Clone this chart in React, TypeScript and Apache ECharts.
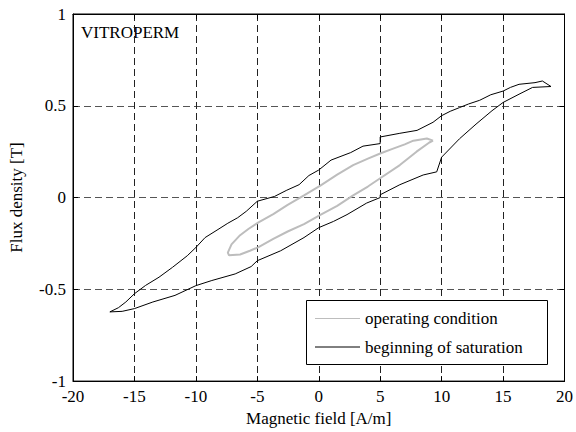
import React, { useEffect, useRef } from "react";
import * as echarts from "echarts";

const FONT = "Liberation Serif";
const FS = 17;

const xTicks = { min: -20, max: 20, interval: 5 };
const yTicks = { min: -1, max: 1, interval: 0.5 };

const seriesNames = ["operating condition", "beginning of saturation"];
const seriesColors = ["#bdbdbd", "#000000"];

// black loop: upper (descending H) then lower (ascending H)
const saturationUpper: [number, number][] = [
  [18.9, 0.605], [18.2, 0.635], [17.6, 0.626], [16.3, 0.617], [15.6, 0.6],
  [15.0, 0.58], [14.0, 0.56], [13.1, 0.53], [12.2, 0.51], [11.45, 0.49],
  [10.7, 0.47], [10.0, 0.446], [9.3, 0.41], [8.0, 0.366], [6.6, 0.35],
  [5.0, 0.33], [5.0, 0.294], [3.6, 0.28], [2.6, 0.245], [1.0, 0.204],
  [0.0, 0.15], [-0.8, 0.12], [-1.6, 0.07], [-2.6, 0.04], [-3.6, 0.006],
  [-5.0, -0.02], [-5.9, -0.075], [-6.6, -0.11], [-7.4, -0.14], [-8.2, -0.174],
  [-9.25, -0.218], [-10.0, -0.272], [-10.7, -0.317], [-11.9, -0.38],
  [-13.0, -0.434], [-14.1, -0.479], [-15.0, -0.524], [-15.7, -0.569],
  [-16.3, -0.6], [-17.0, -0.623],
];
const saturationLower: [number, number][] = [
  [-17.0, -0.625], [-16.0, -0.62], [-15.0, -0.605], [-13.5, -0.569],
  [-11.7, -0.533], [-10.0, -0.48], [-8.7, -0.452], [-6.8, -0.416],
  [-5.5, -0.376], [-5.0, -0.344], [-3.1, -0.29], [-1.2, -0.218],
  [0.0, -0.164], [1.2, -0.13], [2.3, -0.093], [3.9, -0.03], [5.0, 0.0],
  [5.0, 0.015], [6.6, 0.07], [8.5, 0.123], [9.6, 0.14], [10.0, 0.22],
  [11.45, 0.32], [12.8, 0.4], [14.1, 0.473], [15.0, 0.518], [16.3, 0.563],
  [17.4, 0.6], [18.9, 0.605],
];

// gray loop
const operatingUpper: [number, number][] = [
  [9.3, 0.31], [8.8, 0.322], [7.7, 0.31], [7.0, 0.29], [6.0, 0.265],
  [5.0, 0.24], [4.0, 0.212], [2.8, 0.177], [1.5, 0.125], [0.13, 0.065],
  [-1.2, 0.012], [-2.53, -0.04], [-3.7, -0.09], [-4.9, -0.135],
  [-5.7, -0.17], [-6.4, -0.205], [-7.1, -0.255], [-7.4, -0.3],
];
const operatingLower: [number, number][] = [
  [-7.3, -0.315], [-6.4, -0.31], [-5.6, -0.29], [-4.9, -0.27],
  [-3.7, -0.225], [-2.53, -0.185], [-1.2, -0.145], [0.13, -0.095],
  [1.5, -0.045], [2.8, 0.012], [4.0, 0.06], [5.0, 0.105], [6.6, 0.177],
  [7.96, 0.25], [9.0, 0.3], [9.3, 0.31],
];

export default function App() {
  const ref = useRef<HTMLDivElement>(null);
  useEffect(() => {
    if (!ref.current) return;
    const chart = echarts.init(ref.current, undefined, { renderer: "svg" });
    const labelStyle = { color: "#000", fontFamily: FONT, fontSize: FS };
    const plainAxisLine = { show: true, onZero: false, lineStyle: { color: "#000" } };
    const innerTick = { show: true, inside: true, length: 5, lineStyle: { color: "#000" } };
    const legendBox = { x: 306.5, y: 300.5, w: 241, h: 64 };
    const legendGraphics: any[] = [
      {
        type: "rect", z: 10,
        shape: { x: legendBox.x, y: legendBox.y, width: legendBox.w, height: legendBox.h },
        style: { fill: "#fff", stroke: "#000", lineWidth: 1 },
      },
    ];
    seriesNames.forEach((name, i) => {
      const cy = 318.5 + i * 28.5;
      legendGraphics.push({
        type: "line", z: 11,
        shape: { x1: 315, y1: cy, x2: 360, y2: cy },
        style: { stroke: seriesColors[i], lineWidth: 1 },
      });
      legendGraphics.push({
        type: "text", z: 11, x: 365, y: cy,
        style: {
          text: name, fill: "#000", fontFamily: FONT, fontSize: FS,
          verticalAlign: "middle", align: "left",
        },
      });
    });
    chart.setOption({
      animation: false,
      backgroundColor: "#fff",
      textStyle: { fontFamily: FONT, fontSize: FS, color: "#000" },
      grid: {
        left: 70, right: 10, top: 14, bottom: 47,
        show: true, borderColor: "#000", borderWidth: 1,
      },
      xAxis: [
        {
          type: "value", ...xTicks, position: "bottom",
          name: "Magnetic field [A/m]", nameLocation: "middle", nameGap: 26,
          nameTextStyle: labelStyle,
          axisLine: plainAxisLine,
          axisTick: innerTick,
          axisLabel: { ...labelStyle, margin: 7 },
          splitLine: { show: true, lineStyle: { color: "#222", type: [7, 4], width: 1 } },
        },
        {
          type: "value", ...xTicks, position: "top",
          axisLine: plainAxisLine,
          axisTick: innerTick,
          axisLabel: { show: false },
          splitLine: { show: false },
        },
      ],
      yAxis: [
        {
          type: "value", ...yTicks, position: "left",
          name: "Flux density [T]", nameLocation: "middle", nameGap: 48,
          nameTextStyle: labelStyle,
          axisLine: plainAxisLine,
          axisTick: innerTick,
          axisLabel: { ...labelStyle, margin: 7 },
          splitLine: { show: true, lineStyle: { color: "#555", type: [7, 4], width: 1 } },
        },
        {
          type: "value", ...yTicks, position: "right",
          axisLine: plainAxisLine,
          axisTick: innerTick,
          axisLabel: { show: false },
          splitLine: { show: false },
        },
      ],
      graphic: [
        {
          type: "text", x: 81, y: 32,
          style: {
            text: "VITROPERM", fill: "#000", fontFamily: FONT, fontSize: FS,
            verticalAlign: "middle", align: "left",
          },
        },
        ...legendGraphics,
      ],
      series: [
        {
          name: seriesNames[0], type: "line", xAxisIndex: 0, yAxisIndex: 0,
          symbol: "none", showSymbol: false,
          lineStyle: { color: seriesColors[0], width: 2 },
          data: [...operatingUpper, ...operatingLower],
          z: 3,
        },
        {
          name: seriesNames[1], type: "line", xAxisIndex: 0, yAxisIndex: 0,
          symbol: "none", showSymbol: false,
          lineStyle: { color: seriesColors[1], width: 1 },
          data: [...saturationUpper, ...saturationLower],
          z: 3,
        },
      ],
    });
    return () => chart.dispose();
  }, []);
  return <div ref={ref} style={{ width: 576, height: 432, position: "absolute", left: 0, top: 0 }} />;
}
